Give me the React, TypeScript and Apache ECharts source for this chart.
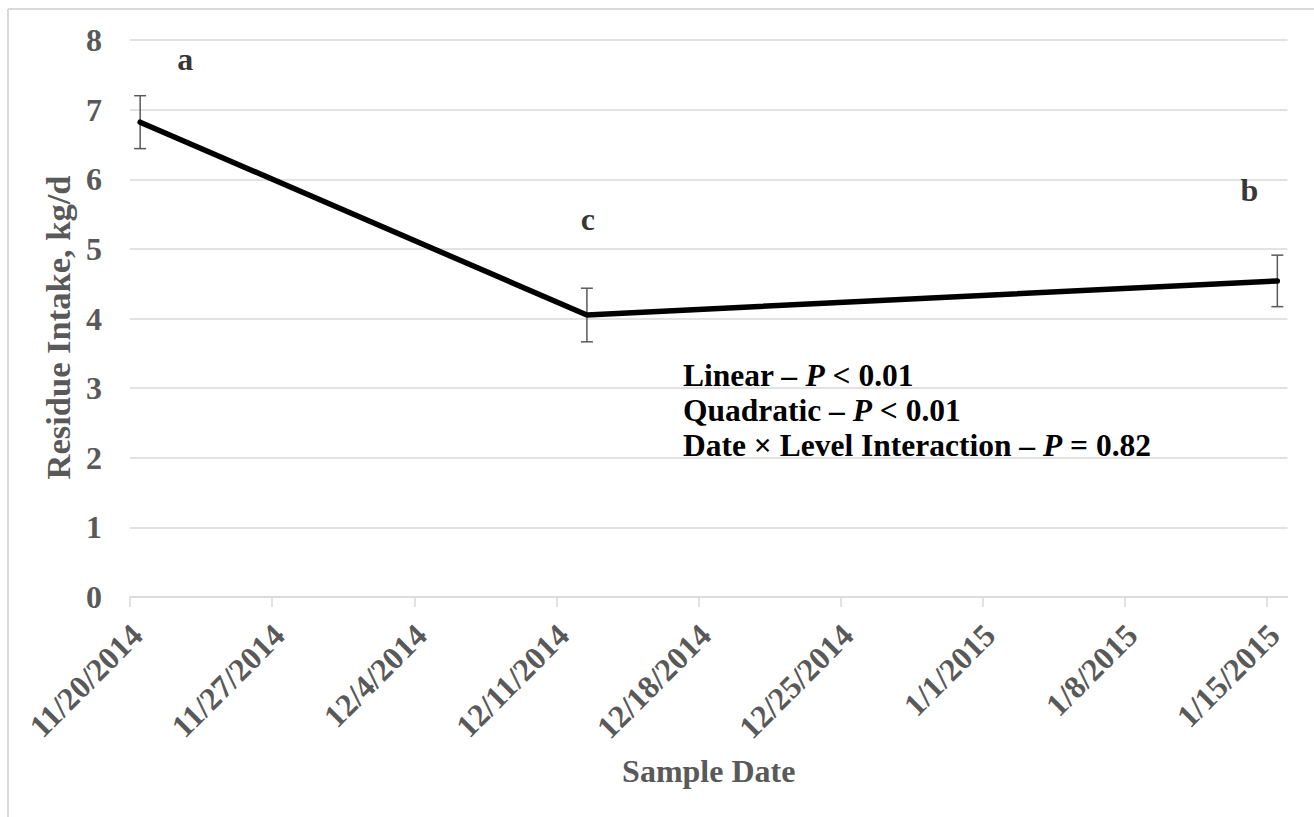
import React, { useEffect, useRef } from "react";
import * as echarts from "echarts";

// ---- data ----
const sampleDates = ["2014-11-20", "2014-12-12", "2015-01-15"];
const intakeMeans = [6.82, 4.05, 4.54];
const intakeSE = [0.38, 0.385, 0.37];
const sigLetters = ["a", "c", "b"];
const xTickLabels = [
  "11/20/2014",
  "11/27/2014",
  "12/4/2014",
  "12/11/2014",
  "12/18/2014",
  "12/25/2014",
  "1/1/2015",
  "1/8/2015",
  "1/15/2015",
];
const statLines = [
  ["Linear – ", "P", " < 0.01"],
  ["Quadratic – ", "P", " < 0.01"],
  ["Date × Level Interaction – ", "P", " = 0.82"],
];
const axisStartDate = "2014-11-20";
const axisEndDate = "2015-01-16";
const tickStepDays = 7;

// ---- styling ----
const FONT = "'Liberation Serif', 'Times New Roman', serif";
const GRAY = "#595959";
const GRID_GRAY = "#d9d9d9";
const letterOffsets = [
  [45, -63],
  [1, -96],
  [-28, -91],
];
const STAT_X = 683;
const STAT_Y0 = 375;
const STAT_DY = 35;
const STAT_FONT = 31.5;

const DAY = 86400000;
const dayOf = (s: string) =>
  (Date.parse(s + "T00:00:00Z") - Date.parse(axisStartDate + "T00:00:00Z")) / DAY;

export default function App() {
  const ref = useRef<HTMLDivElement>(null);

  useEffect(() => {
    if (!ref.current) return;
    const chart = echarts.init(ref.current, undefined, { renderer: "svg" });

    const xs = sampleDates.map((d) => dayOf(d) + 0.5);
    const pts = xs.map((x, i) => [x, intakeMeans[i]]);
    const errData = xs.map((x, i) => [x, intakeMeans[i], intakeSE[i]]);
    const tickValues = xTickLabels.map((_, i) => i * tickStepDays);
    const maxDay = dayOf(axisEndDate);

    const richStyles = {
      b: { fontFamily: FONT, fontSize: STAT_FONT, fontWeight: "bold", fill: "#000000", lineHeight: 28 },
      i: {
        fontFamily: FONT,
        fontSize: STAT_FONT,
        fontWeight: "bold",
        fontStyle: "italic",
        fill: "#000000",
        lineHeight: 28,
      },
    };

    const statGraphics = statLines.map((l, k) => ({
      type: "text",
      x: STAT_X,
      y: STAT_Y0 + k * STAT_DY,
      silent: true,
      style: {
        text: `{b|${l[0]}}{i|${l[1]}}{b|${l[2]}}`,
        verticalAlign: "middle",
        fill: "#000000",
        rich: richStyles,
      },
    }));

    chart.setOption({
      animation: false,
      backgroundColor: "#ffffff",
      grid: {
        left: 130,
        right: 26.5,
        top: 40,
        bottom: 220,
        containLabel: false,
        outerBoundsMode: "none",
      },
      xAxis: {
        type: "value",
        min: 0,
        max: maxDay,
        name: "Sample Date",
        nameLocation: "middle",
        nameGap: 158,
        nameTextStyle: {
          fontFamily: FONT,
          fontSize: 32,
          fontWeight: "bold",
          color: GRAY,
          lineHeight: 32,
        },
        axisLine: { show: true, onZero: false, lineStyle: { color: GRID_GRAY, width: 1.5 } },
        axisTick: {
          show: true,
          length: 10,
          customValues: tickValues,
          lineStyle: { color: GRID_GRAY, width: 1.5 },
        },
        splitLine: { show: false },
        axisLabel: {
          customValues: tickValues,
          rotate: 45,
          margin: 26,
          align: "right",
          verticalAlign: "top",
          lineHeight: 19,
          fontFamily: FONT,
          fontSize: 32,
          fontWeight: "bold",
          color: GRAY,
          formatter: (v: number) => {
            const idx = Math.round(v / tickStepDays);
            return Math.abs(v - idx * tickStepDays) < 1e-6 ? xTickLabels[idx] ?? "" : "";
          },
        },
      },
      yAxis: {
        type: "value",
        min: 0,
        max: 8,
        interval: 1,
        name: "Residue Intake, kg/d",
        nameLocation: "middle",
        nameGap: 52.5,
        nameTextStyle: {
          fontFamily: FONT,
          fontSize: 34.5,
          fontWeight: "bold",
          color: GRAY,
          lineHeight: 34,
          padding: [0, 18, 0, 0],
        },
        axisLine: { show: false },
        axisTick: { show: false },
        splitLine: { show: true, lineStyle: { color: GRID_GRAY, width: 1.5 } },
        axisLabel: {
          margin: 28,
          fontFamily: FONT,
          fontSize: 32,
          fontWeight: "bold",
          color: GRAY,
        },
      },
      series: [
        {
          type: "custom",
          z: 2,
          data: errData,
          renderItem: (params: any, api: any) => {
            const x = api.value(0);
            const y = api.value(1);
            const e = api.value(2);
            const top = api.coord([x, y + e]);
            const bot = api.coord([x, y - e]);
            const hw = 6;
            const st = { stroke: GRAY, lineWidth: 1.5 };
            return {
              type: "group",
              children: [
                { type: "line", shape: { x1: top[0], y1: top[1], x2: bot[0], y2: bot[1] }, style: st },
                { type: "line", shape: { x1: top[0] - hw, y1: top[1], x2: top[0] + hw, y2: top[1] }, style: st },
                { type: "line", shape: { x1: bot[0] - hw, y1: bot[1], x2: bot[0] + hw, y2: bot[1] }, style: st },
              ],
            };
          },
        },
        {
          type: "line",
          z: 3,
          data: pts,
          showSymbol: false,
          symbol: "none",
          lineStyle: { color: "#000000", width: 5.5, cap: "round", join: "round" },
        },
        {
          type: "scatter",
          z: 4,
          symbolSize: 1,
          itemStyle: { color: "rgba(0,0,0,0)" },
          data: pts.map((p, i) => ({
            value: p,
            label: { offset: letterOffsets[i] },
          })),
          label: {
            show: true,
            position: "inside",
            formatter: (p: any) => sigLetters[p.dataIndex],
            fontFamily: FONT,
            fontSize: 32,
            fontWeight: "bold",
            color: "#000000",
          },
        },
      ],
      graphic: [
        {
          type: "line",
          silent: true,
          shape: { x1: 8, y1: 9, x2: 1314, y2: 9 },
          style: { stroke: GRID_GRAY, lineWidth: 2 },
        },
        {
          type: "line",
          silent: true,
          shape: { x1: 8, y1: 9, x2: 8, y2: 817 },
          style: { stroke: GRID_GRAY, lineWidth: 2 },
        },
        ...statGraphics,
      ],
    });

    return () => chart.dispose();
  }, []);

  return (
    <div
      ref={ref}
      style={{ position: "absolute", left: 0, top: 0, width: 1314, height: 817 }}
    />
  );
}
